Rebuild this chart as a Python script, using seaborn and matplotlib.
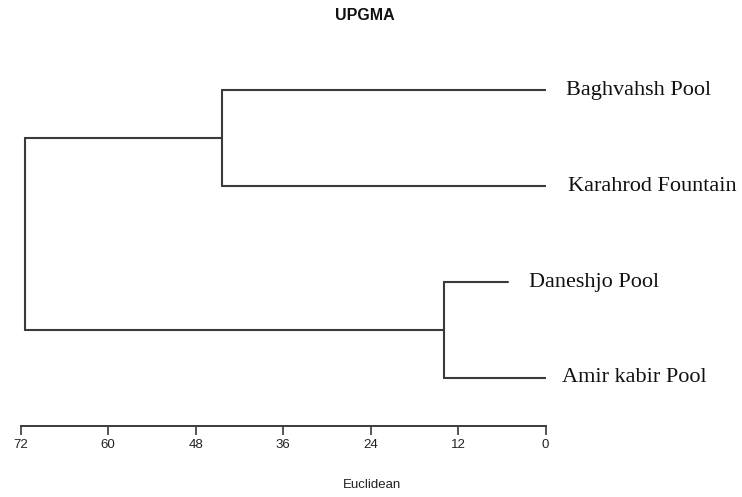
import matplotlib
matplotlib.use("Agg")
import matplotlib.pyplot as plt
import seaborn as sns
import pandas as pd

# ---- data ----
leaf_labels = ["Baghvahsh Pool", "Karahrod Fountain", "Daneshjo Pool", "Amir kabir Pool"]
leaf_heights = [0.0, 0.0, 5.1, 0.0]
# merges: (left child, right child, height); children >= 4 refer to earlier merges
merge_left = [0, 2, 4]
merge_right = [1, 3, 5]
merge_heights = [44.4, 13.9, 71.4]
xticks = [72, 60, 48, 36, 24, 12, 0]
title = "UPGMA"
xlabel = "Euclidean"

sns.set_theme(style="white")
plt.rcParams["font.family"] = ["Liberation Sans", "DejaVu Sans"]

line_color = "#3a3a3a"

# leaf vertical positions (top to bottom)
n = len(leaf_labels)
node_y = {i: float(n - i) for i in range(n)}
node_h = {i: leaf_heights[i] for i in range(n)}

rows = []
seg = 0
for k, (a, b, h) in enumerate(zip(merge_left, merge_right, merge_heights)):
    node = n + k
    ya, yb = node_y[a], node_y[b]
    rows += [(seg, node_h[a], ya), (seg, h, ya)]; seg += 1
    rows += [(seg, h, ya), (seg, h, yb)]; seg += 1
    rows += [(seg, node_h[b], yb), (seg, h, yb)]; seg += 1
    node_y[node] = (ya + yb) / 2
    node_h[node] = h

df = pd.DataFrame(rows, columns=["seg", "dist", "pos"])

fig = plt.figure(figsize=(7.42, 4.97), dpi=100)
ax = fig.add_axes([20.8 / 742, 71 / 497, (545.5 - 20.8) / 742, 384 / 497])

sns.lineplot(data=df, x="dist", y="pos", units="seg", estimator=None, sort=False,
             color=line_color, linewidth=1.5, ax=ax, legend=False)

ax.set_xlim(72, 0)
ax.set_ylim(0.5, 4.5)

for sp in ["top", "left", "right"]:
    ax.spines[sp].set_visible(False)
ax.spines["bottom"].set_color(line_color)
ax.spines["bottom"].set_linewidth(1.4)
ax.spines["bottom"].set_bounds(72, 0)

ax.set_xticks(xticks)
ax.set_xticklabels([str(t) for t in xticks], fontsize=9.5, color="#222222")
ax.tick_params(axis="x", direction="out", length=6.5, width=1.2, color=line_color,
               pad=2.5, bottom=True)
ax.set_yticks([])
ax.set_xlabel("")
ax.set_ylabel("")

offsets = [15, 16, 15, 12]
for i, lab in enumerate(leaf_labels):
    ax.annotate(lab, xy=(leaf_heights[i], node_y[i]), xytext=(offsets[i], 0),
                textcoords="offset points", va="center", ha="left",
                fontsize=16, family=["Liberation Serif", "DejaVu Serif"],
                color="#111111", annotation_clip=False)

fig.text(0.492, 1 - 16 / 497, title, ha="center", va="center", fontsize=11.5,
         fontweight="bold", color="#111111")
fig.text(0.502, 1 - 485 / 497, xlabel, ha="center", va="center", fontsize=9.5,
         color="#222222")

fig.savefig("out.png", dpi=100)
